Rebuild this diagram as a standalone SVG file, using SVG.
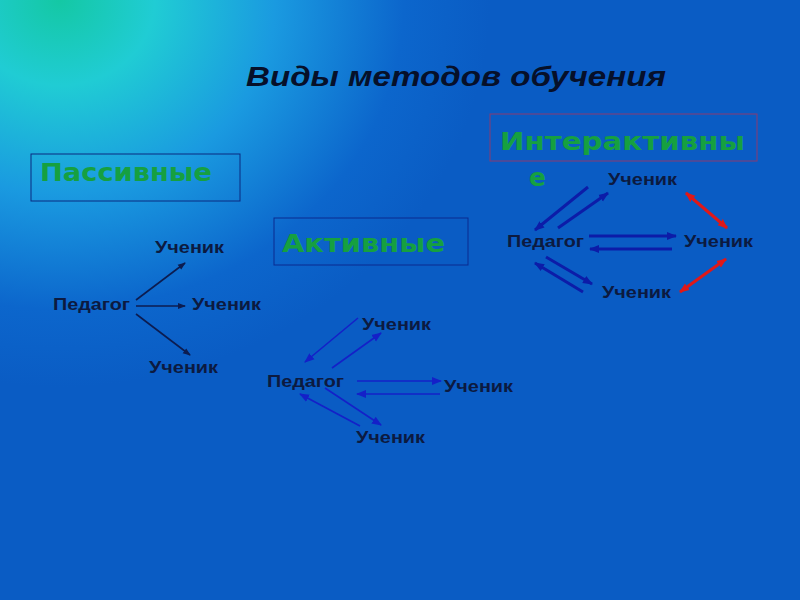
<svg xmlns="http://www.w3.org/2000/svg" width="800" height="600" viewBox="0 0 800 600">
<defs>
<radialGradient id="bg" cx="60" cy="0" r="430" gradientUnits="userSpaceOnUse" gradientTransform="translate(60 0) scale(1 0.9) translate(-60 0)">
<stop offset="0" stop-color="#14c8a4"/>
<stop offset="0.22" stop-color="#20ccd4"/>
<stop offset="0.5" stop-color="#1a9ae0"/>
<stop offset="0.8" stop-color="#0c66cc"/>
<stop offset="1" stop-color="#0a5cc4"/>
</radialGradient>
<marker id="ak" markerWidth="8" markerHeight="8" refX="7" refY="4" orient="auto" markerUnits="userSpaceOnUse"><path d="M0,1 L8,4 L0,7 Z" fill="#0c1c50"/></marker>
<marker id="ab" markerWidth="10" markerHeight="10" refX="9" refY="5" orient="auto" markerUnits="userSpaceOnUse"><path d="M0,1 L10,5 L0,9 Z" fill="#1420c8"/></marker>
<marker id="ai" markerWidth="10" markerHeight="10" refX="9" refY="5" orient="auto" markerUnits="userSpaceOnUse"><path d="M0,1 L10,5 L0,9 Z" fill="#0c1ca8"/></marker>
<marker id="ar" markerWidth="10" markerHeight="10" refX="9" refY="5" orient="auto-start-reverse" markerUnits="userSpaceOnUse"><path d="M0,1 L10,5 L0,9 Z" fill="#e01818"/></marker>
</defs>
<style>
.lbl{font-family:"Liberation Sans",Arial,sans-serif;font-weight:bold;font-size:17px;fill:#0c1a40}
.cat{font-family:"DejaVu Sans","Liberation Sans",sans-serif;font-weight:bold;font-size:25px;fill:#16a040}
.box{fill:none;stroke-width:1}
.k{stroke:#0c1c50;stroke-width:1.6;fill:none}
.b{stroke:#1420c8;stroke-width:1.6;fill:none}
.i{stroke:#0c1ca8;stroke-width:3;fill:none}
.r{stroke:#e01818;stroke-width:3;fill:none}
</style>
<rect width="800" height="600" fill="url(#bg)"/>
<text x="246" y="86" textLength="420" lengthAdjust="spacingAndGlyphs" font-family="Liberation Sans,Arial,sans-serif" font-weight="bold" font-style="italic" font-size="28" fill="#06102a">Виды методов обучения</text>

<g id="passive">
<rect class="box" x="31" y="154" width="209" height="47" stroke="#0a2a80"/>
<text class="cat" x="40" y="181" textLength="172" lengthAdjust="spacingAndGlyphs">Пассивные</text>
</g>
<g id="active">
<rect class="box" x="274" y="218" width="194" height="47" stroke="#0a2a90"/>
<text class="cat" x="282" y="252" textLength="163" lengthAdjust="spacingAndGlyphs">Активные</text>
</g>
<g id="interactive">
<rect class="box" x="490" y="114" width="267" height="47" stroke="#8a3a70"/>
<text class="cat" x="500" y="150" textLength="245" lengthAdjust="spacingAndGlyphs">Интерактивны</text>
<text class="cat" x="529" y="186">е</text>
</g>

<g id="p-teacher"><text class="lbl" x="53" y="310" textLength="77" lengthAdjust="spacingAndGlyphs">Педагог</text></g>
<g id="p-s1"><text class="lbl" x="155" y="253" textLength="69" lengthAdjust="spacingAndGlyphs">Ученик</text></g>
<g id="p-s2"><text class="lbl" x="192" y="310" textLength="69" lengthAdjust="spacingAndGlyphs">Ученик</text></g>
<g id="p-s3"><text class="lbl" x="149" y="373" textLength="69" lengthAdjust="spacingAndGlyphs">Ученик</text></g>

<g id="a-teacher"><text class="lbl" x="267" y="387" textLength="77" lengthAdjust="spacingAndGlyphs">Педагог</text></g>
<g id="a-s1"><text class="lbl" x="362" y="330" textLength="69" lengthAdjust="spacingAndGlyphs">Ученик</text></g>
<g id="a-s2"><text class="lbl" x="444" y="392" textLength="69" lengthAdjust="spacingAndGlyphs">Ученик</text></g>
<g id="a-s3"><text class="lbl" x="356" y="443" textLength="69" lengthAdjust="spacingAndGlyphs">Ученик</text></g>

<g id="i-teacher"><text class="lbl" x="507" y="247" textLength="77" lengthAdjust="spacingAndGlyphs">Педагог</text></g>
<g id="i-s1"><text class="lbl" x="608" y="185" textLength="69" lengthAdjust="spacingAndGlyphs">Ученик</text></g>
<g id="i-s2"><text class="lbl" x="684" y="247" textLength="69" lengthAdjust="spacingAndGlyphs">Ученик</text></g>
<g id="i-s3"><text class="lbl" x="602" y="298" textLength="69" lengthAdjust="spacingAndGlyphs">Ученик</text></g>

<g id="connectors">
<line class="k" x1="136" y1="300" x2="185" y2="263" marker-end="url(#ak)"/>
<line class="k" x1="136" y1="306" x2="185" y2="306" marker-end="url(#ak)"/>
<line class="k" x1="136" y1="314" x2="190" y2="355" marker-end="url(#ak)"/>

<line class="b" x1="358" y1="318" x2="305" y2="362" marker-end="url(#ab)"/>
<line class="b" x1="332" y1="368" x2="381" y2="333" marker-end="url(#ab)"/>
<line class="b" x1="357" y1="381" x2="441" y2="381" marker-end="url(#ab)"/>
<line class="b" x1="440" y1="394" x2="357" y2="394" marker-end="url(#ab)"/>
<line class="b" x1="325" y1="388" x2="381" y2="425" marker-end="url(#ab)"/>
<line class="b" x1="360" y1="426" x2="300" y2="394" marker-end="url(#ab)"/>

<line class="i" x1="588" y1="187" x2="535" y2="230" marker-end="url(#ai)"/>
<line class="i" x1="558" y1="228" x2="608" y2="193" marker-end="url(#ai)"/>
<line class="i" x1="589" y1="236" x2="676" y2="236" marker-end="url(#ai)"/>
<line class="i" x1="672" y1="249" x2="590" y2="249" marker-end="url(#ai)"/>
<line class="i" x1="546" y1="257" x2="592" y2="284" marker-end="url(#ai)"/>
<line class="i" x1="583" y1="292" x2="535" y2="263" marker-end="url(#ai)"/>
<line class="r" x1="686" y1="193" x2="727" y2="228" marker-start="url(#ar)" marker-end="url(#ar)"/>
<line class="r" x1="726" y1="259" x2="680" y2="292" marker-start="url(#ar)" marker-end="url(#ar)"/>
</g>
</svg>
